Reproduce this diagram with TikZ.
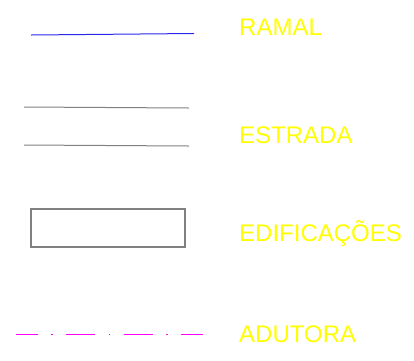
\documentclass[tikz,border=0pt]{standalone}
\usepackage{fontspec}
\setmainfont{Liberation Sans}
\definecolor{ramalblue}{RGB}{40,40,235}
\definecolor{legendgray}{RGB}{128,128,128}
\definecolor{adutoramag}{RGB}{255,0,255}
\definecolor{labelyellow}{RGB}{255,255,0}
\tikzset{
    legendlabel/.style={anchor=base west, inner sep=0pt, text=labelyellow,
        font=\fontsize{24}{24}\selectfont}
}
\begin{document}
\begin{tikzpicture}[x=1pt, y=-1pt]
    % 余白を含めた大きさ
    \useasboundingbox (0,0) rectangle (414,360);

    % 凡例の線と枠
    \draw [ramalblue, line width=1pt] (31,35) -- (194,33.5);
    \draw [legendgray, line width=1pt] (24,107) -- (189,108);
    \draw [legendgray, line width=1pt] (24,145) -- (189,146);
    \draw [legendgray, line width=2pt] (31,209) rectangle (185,247);
    \draw [adutoramag, line width=1.3pt,
        dash pattern=on 29pt off 13.5pt on 1.5pt off 13.5pt, dash phase=7.5pt]
        (16,334.5) -- (203,334.5);

    % ラベル
    \pgfmathsetmacro{\lx}{239}
    \node [legendlabel] (ramal) at (\lx,35) {RAMAL};
    \node [legendlabel] (estrada) at (\lx,143) {ESTRADA};
    \node [legendlabel] (edificacoes) at (\lx,241) {EDIFICAÇÕES};
    \node [legendlabel] (adutora) at (\lx,342) {ADUTORA};
    %
\end{tikzpicture}
\end{document}
